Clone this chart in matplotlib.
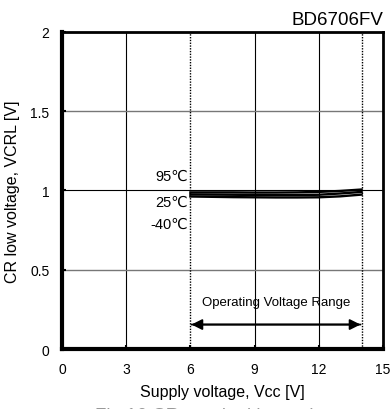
import matplotlib.pyplot as plt
import numpy as np

plt.rcParams['font.family'] = ['Liberation Sans', 'DejaVu Sans']

# Dados
vcc = [6, 7, 8, 9, 10, 11, 12, 13, 14]
v_95 = [0.988, 0.988, 0.988, 0.987, 0.987, 0.988, 0.991, 0.997, 1.006]
v_25 = [0.975, 0.974, 0.973, 0.972, 0.971, 0.971, 0.973, 0.981, 0.991]
v_m40 = [0.962, 0.960, 0.958, 0.957, 0.956, 0.956, 0.957, 0.963, 0.974]
temps = ['95℃', '25℃', '-40℃']
xticks = [0, 3, 6, 9, 12, 15]
yticks = [0, 0.5, 1, 1.5, 2]

fig = plt.figure(figsize=(3.9, 4.1), dpi=100)
ax = fig.add_axes([0.159, 0.146, 0.823, 0.774])

# Grade
for x in [3, 9, 12]:
    ax.axvline(x, color='black', lw=0.8, zorder=1)
for y in [0.5, 1.5]:
    ax.axhline(y, color='#777777', lw=1.0, zorder=1)
ax.axhline(1, color='black', lw=0.8, zorder=1)
for x in [6, 14]:
    ax.axvline(x, color='black', lw=1.0, ls=(0, (1, 1)), zorder=2)

# Curvas
for serie in [v_95, v_25, v_m40]:
    ax.plot(vcc, serie, color='black', lw=1.7, zorder=3)

# Rótulos de temperatura
ax.text(5.9, 1.09, temps[0], ha='right', va='center', fontsize=10.5)
ax.text(5.9, 0.93, temps[1], ha='right', va='center', fontsize=10.5)
ax.text(5.9, 0.79, temps[2], ha='right', va='center', fontsize=10.5)

# Faixa de operação
ax.annotate('', xy=(6.05, 0.155), xytext=(13.95, 0.155),
            arrowprops=dict(arrowstyle='-|>', color='black', lw=1.3,
                            mutation_scale=16, shrinkA=0, shrinkB=0))
ax.annotate('', xy=(13.95, 0.155), xytext=(6.05, 0.155),
            arrowprops=dict(arrowstyle='-|>', color='black', lw=1.3,
                            mutation_scale=16, shrinkA=0, shrinkB=0))
ax.text(10.0, 0.3, 'Operating Voltage Range', ha='center', va='center', fontsize=9.5)

ax.set_xlim(0, 15)
ax.set_ylim(0, 2)
ax.set_xticks(xticks)
ax.set_yticks(yticks)
ax.set_xticklabels([str(t) for t in xticks])
ax.set_yticklabels(['0', '0.5', '1', '1.5', '2'])
ax.tick_params(direction='in', length=3, width=1.5, labelsize=10, pad=9)
for s in ax.spines.values():
    s.set_linewidth(2)
ax.spines['left'].set_linewidth(3)
ax.spines['bottom'].set_linewidth(3)

ax.set_xlabel('Supply voltage, Vcc [V]', fontsize=11.5, labelpad=6)
ax.set_ylabel('CR low voltage, VCRL [V]', fontsize=11.5, va='center')
ax.yaxis.set_label_coords(-0.155, 0.5)

fig.text(0.982, 0.93, 'BD6706FV', ha='right', va='bottom', fontsize=13.5)
fig.text(0.57, -0.026, 'Fig.16 CR terminal low voltage', ha='center', va='baseline',
         fontsize=13.5, color='#999999')

fig.savefig('out.png', dpi=100)
